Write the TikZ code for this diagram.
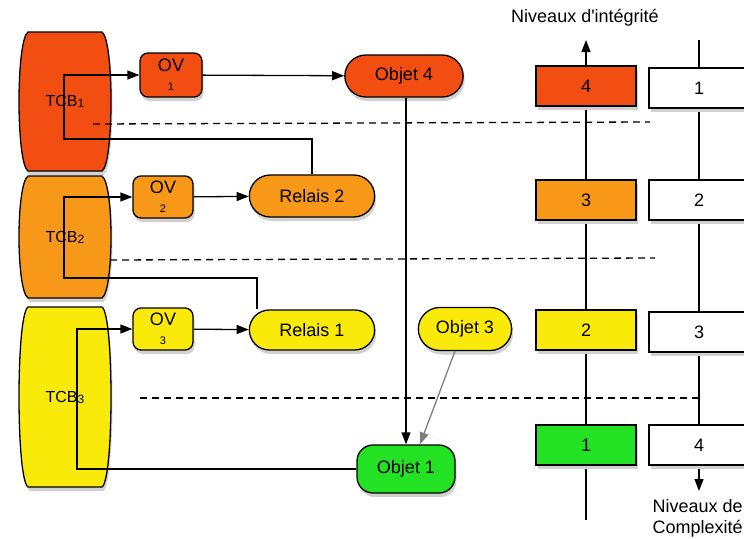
\documentclass[tikz,border=0pt]{standalone}
\usepackage{fontspec}
\setmainfont{Liberation Sans}
\usepackage{xcolor}
\usepackage{tikz}
\usetikzlibrary{positioning,shapes.misc,arrows.meta,shadows}

\definecolor{lvlred}{RGB}{242,78,18}
\definecolor{lvlorange}{RGB}{248,152,24}
\definecolor{lvlyellow}{RGB}{250,234,10}
\definecolor{lvlgreen}{RGB}{35,226,35}
\newcommand{\tcbidx}[1]{\raisebox{-1pt}{\fontsize{12}{12}\selectfont #1}}
\newcommand{\ovidx}[1]{{\fontsize{11}{11}\selectfont #1}}

\begin{document}
\begin{tikzpicture}[x=1pt, y=-1pt, >={Triangle[length=12pt,width=9pt]}, line width=1.3pt,
  every node/.style={font=\fontsize{18}{21}\selectfont},
  softshadow/.style={drop shadow={fill=black!18, opacity=1, shadow xshift=1.5pt, shadow yshift=-4pt}},
  tcbbox/.style={minimum width=74pt, inner sep=0pt, font=\fontsize{16}{19}\selectfont},
  ovbox/.style={draw, rounded corners=8pt, minimum width=60pt, minimum height=42pt, align=center, inner sep=1pt, softshadow},
  pill/.style={draw, rounded rectangle, minimum height=42pt, softshadow},
  lvlbox/.style={draw, minimum width=100pt, minimum height=40pt, softshadow},
  sep/.style={dash pattern=on 7pt off 5pt}]
  \useasboundingbox (0,0) rectangle (744,538);

  % axes
  \coordinate (itop) at (586,40);
  \coordinate (ibot) at (586,520);
  \coordinate (ctop) at (699,40);
  \coordinate (cbot) at (699,491);
  \draw[->] (ibot) -- (itop);
  \draw[->] (ctop) -- (cbot);
  \node (ilabel) at (585,18) {Niveaux d\textquotesingle intégrité};
  \node[anchor=north west, align=left, inner sep=0pt] (clabel) at (652,499) {Niveaux de\\Complexité};

  % trusted bases (barrel outlines)
  \foreach \yt/\yb/\fc in {32/171/lvlred, 176/298/lvlorange, 307/487/lvlyellow}
    \filldraw[fill=\fc, softshadow] (28,\yt) -- (102,\yt)
      .. controls (114,\yt+8) and (114,\yb-8) .. (102,\yb) -- (28,\yb)
      .. controls (16,\yb-8) and (16,\yt+8) .. cycle;
  \node[tcbbox, minimum height=139pt] (tcb1) at (65,101.5) {TCB\tcbidx{1}};
  \node[tcbbox, minimum height=122pt] (tcb2) at (65,237) {TCB\tcbidx{2}};
  \node[tcbbox, minimum height=180pt] (tcb3) at (65,397) {TCB\tcbidx{3}};

  % separators
  \draw[sep] (93,124) -- (650,122);
  \draw[sep] (110,260) -- (655,258);
  \draw[sep] (140,398) -- (700,398);

  % objects
  \node[ovbox, fill=lvlred, minimum width=62pt, minimum height=44pt] (ov1) at (171,75) {OV\\[-2pt]\ovidx{1}};
  \node[ovbox, fill=lvlorange] (ov2) at (163,197) {OV\\[-2pt]\ovidx{2}};
  \node[ovbox, fill=lvlyellow] (ov3) at (163,329) {OV\\[-2pt]\ovidx{3}};
  \node[pill, fill=lvlred, minimum width=125pt] (obj4) at (404,76) {Objet 4};
  \node[pill, fill=lvlorange, minimum width=132pt] (rel2) at (312,196) {Relais 2};
  \node[pill, fill=lvlyellow, minimum width=132pt, minimum height=40pt] (rel1) at (312,330) {Relais 1};
  \node[pill, fill=lvlyellow, minimum width=100pt, minimum height=43pt] (obj3) at (465,329) {Objet 3};
  \node[draw, rounded corners=16pt, fill=lvlgreen, minimum width=98pt, minimum height=48pt, softshadow] (obj1) at (406,469) {Objet 1};

  % levels
  \node[lvlbox, fill=lvlred] (int4) at (586,86) {4};
  \node[lvlbox, fill=lvlorange] (int3) at (586,200) {3};
  \node[lvlbox, fill=lvlyellow] (int2) at (586,330) {2};
  \node[lvlbox, fill=lvlgreen] (int1) at (586,445) {1};
  \node[lvlbox, fill=white] (cpx1) at (699,88) {1};
  \node[lvlbox, fill=white] (cpx2) at (699,200) {2};
  \node[lvlbox, fill=white] (cpx3) at (699,332) {3};
  \node[lvlbox, fill=white] (cpx4) at (699,445) {4};

  % links
  \draw[->] (ov1) -- (obj4);
  \draw[->] (ov2) -- (rel2);
  \draw[->] (ov3) -- (rel1);
  \draw[->] (rel2.north) |- (64,139) |- (ov1.west);
  \draw[->] ([xshift=-55pt]rel1.north) |- (64,278) |- (ov2.west);
  \draw[->] (obj1.west) -| (77,329) -- (ov3.west);
  \draw[->] ([xshift=2pt]obj4.south) -- (obj1.north);
  \draw[->, gray] ([xshift=-10pt]obj3.south) -- ([xshift=14pt]obj1.north);
\end{tikzpicture}
\end{document}
